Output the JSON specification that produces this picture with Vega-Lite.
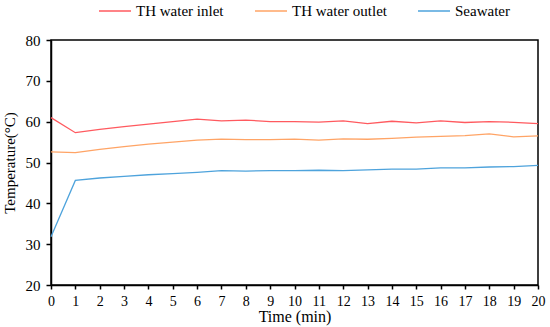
{
  "$schema": "https://vega.github.io/schema/vega-lite/v6.json",
  "width": 487,
  "height": 245,
  "autosize": {"type": "none"},
  "padding": {"left": 51, "top": 40, "right": 12, "bottom": 42},
  "background": "white",
  "config": {
    "font": "Liberation Serif, Times New Roman, serif",
    "view": {"stroke": "black", "strokeWidth": 1.5},
    "text": {"font": "Liberation Serif, Times New Roman, serif"},
    "legend": {"labelFont": "Liberation Serif, Times New Roman, serif"},
    "axis": {"domainColor": "black", "tickColor": "black", "labelColor": "black", "titleColor": "black", "labelFont": "Liberation Serif, Times New Roman, serif", "titleFont": "Liberation Serif, Times New Roman, serif", "titleFontWeight": "normal", "domainWidth": 1.5, "tickWidth": 1.5}
  },
  "data": {
    "values": [
      {"t": 0, "series": "TH water inlet", "v": 61.0},
      {"t": 1, "series": "TH water inlet", "v": 57.3},
      {"t": 2, "series": "TH water inlet", "v": 58.1},
      {"t": 3, "series": "TH water inlet", "v": 58.8},
      {"t": 4, "series": "TH water inlet", "v": 59.4},
      {"t": 5, "series": "TH water inlet", "v": 60.0},
      {"t": 6, "series": "TH water inlet", "v": 60.6},
      {"t": 7, "series": "TH water inlet", "v": 60.2},
      {"t": 8, "series": "TH water inlet", "v": 60.4},
      {"t": 9, "series": "TH water inlet", "v": 60.0},
      {"t": 10, "series": "TH water inlet", "v": 60.0},
      {"t": 11, "series": "TH water inlet", "v": 59.9},
      {"t": 12, "series": "TH water inlet", "v": 60.2},
      {"t": 13, "series": "TH water inlet", "v": 59.5},
      {"t": 14, "series": "TH water inlet", "v": 60.1},
      {"t": 15, "series": "TH water inlet", "v": 59.7},
      {"t": 16, "series": "TH water inlet", "v": 60.2},
      {"t": 17, "series": "TH water inlet", "v": 59.8},
      {"t": 18, "series": "TH water inlet", "v": 60.0},
      {"t": 19, "series": "TH water inlet", "v": 59.85},
      {"t": 20, "series": "TH water inlet", "v": 59.5},
      {"t": 0, "series": "TH water outlet", "v": 52.6},
      {"t": 1, "series": "TH water outlet", "v": 52.4},
      {"t": 2, "series": "TH water outlet", "v": 53.2},
      {"t": 3, "series": "TH water outlet", "v": 53.9},
      {"t": 4, "series": "TH water outlet", "v": 54.5},
      {"t": 5, "series": "TH water outlet", "v": 55.0},
      {"t": 6, "series": "TH water outlet", "v": 55.5},
      {"t": 7, "series": "TH water outlet", "v": 55.7},
      {"t": 8, "series": "TH water outlet", "v": 55.6},
      {"t": 9, "series": "TH water outlet", "v": 55.6},
      {"t": 10, "series": "TH water outlet", "v": 55.7},
      {"t": 11, "series": "TH water outlet", "v": 55.5},
      {"t": 12, "series": "TH water outlet", "v": 55.8},
      {"t": 13, "series": "TH water outlet", "v": 55.7},
      {"t": 14, "series": "TH water outlet", "v": 55.9},
      {"t": 15, "series": "TH water outlet", "v": 56.2},
      {"t": 16, "series": "TH water outlet", "v": 56.4},
      {"t": 17, "series": "TH water outlet", "v": 56.6},
      {"t": 18, "series": "TH water outlet", "v": 57.0},
      {"t": 19, "series": "TH water outlet", "v": 56.3},
      {"t": 20, "series": "TH water outlet", "v": 56.5},
      {"t": 0, "series": "Seawater", "v": 31.8},
      {"t": 1, "series": "Seawater", "v": 45.6},
      {"t": 2, "series": "Seawater", "v": 46.2},
      {"t": 3, "series": "Seawater", "v": 46.6},
      {"t": 4, "series": "Seawater", "v": 47.0},
      {"t": 5, "series": "Seawater", "v": 47.3},
      {"t": 6, "series": "Seawater", "v": 47.6},
      {"t": 7, "series": "Seawater", "v": 48.0},
      {"t": 8, "series": "Seawater", "v": 47.9},
      {"t": 9, "series": "Seawater", "v": 48.0},
      {"t": 10, "series": "Seawater", "v": 48.0},
      {"t": 11, "series": "Seawater", "v": 48.1},
      {"t": 12, "series": "Seawater", "v": 48.0},
      {"t": 13, "series": "Seawater", "v": 48.2},
      {"t": 14, "series": "Seawater", "v": 48.4},
      {"t": 15, "series": "Seawater", "v": 48.4},
      {"t": 16, "series": "Seawater", "v": 48.7},
      {"t": 17, "series": "Seawater", "v": 48.7},
      {"t": 18, "series": "Seawater", "v": 48.9},
      {"t": 19, "series": "Seawater", "v": 49.0},
      {"t": 20, "series": "Seawater", "v": 49.3}
    ]
  },
  "mark": {"type": "line", "strokeWidth": 1.3},
  "encoding": {
    "x": {
      "field": "t", "type": "quantitative",
      "scale": {"domain": [0, 20], "nice": false},
      "axis": {"title": "Time (min)", "values": [0,1,2,3,4,5,6,7,8,9,10,11,12,13,14,15,16,17,18,19,20], "grid": false, "labelFontSize": 14, "titleFontSize": 16, "labelFlush": false, "tickSize": 4, "labelPadding": 5, "titlePadding": 0}
    },
    "y": {
      "field": "v", "type": "quantitative",
      "scale": {"domain": [20, 80], "nice": false, "zero": false},
      "axis": {"title": "Temperature(°C)", "values": [20,30,40,50,60,70,80], "grid": false, "labelFontSize": 15, "titleFontSize": 15, "tickSize": 5, "labelPadding": 6, "titlePadding": 8}
    },
    "color": {
      "field": "series", "type": "nominal",
      "scale": {"domain": ["TH water inlet", "TH water outlet", "Seawater"], "range": ["#ff5a5f", "#ffa466", "#4ea3dc"]},
      "legend": {"title": null, "orient": "none", "direction": "horizontal", "legendX": 47, "legendY": -46, "symbolType": "stroke", "symbolSize": 1024, "symbolStrokeWidth": 1.5, "labelFontSize": 15, "labelColor": "black", "labelOffset": 4, "columnPadding": 28}
    }
  }
}
